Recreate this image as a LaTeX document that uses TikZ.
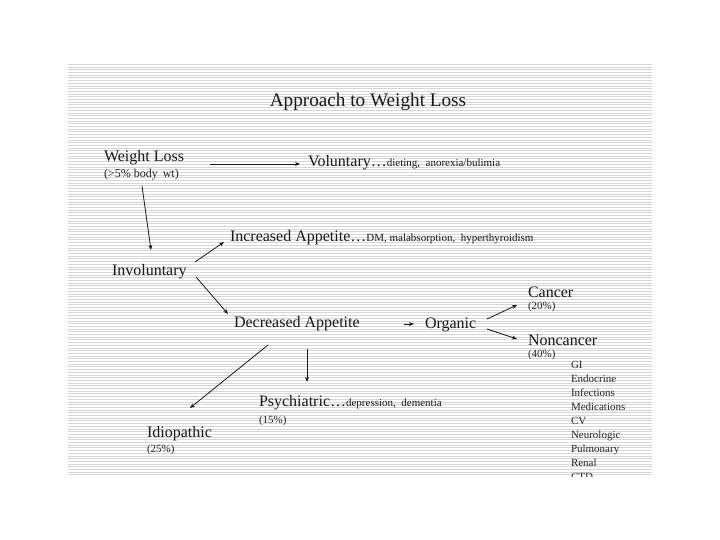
\documentclass[tikz,border=0pt]{standalone}
\usepackage{fontspec}
\setmainfont{Liberation Serif}
\usetikzlibrary{calc,arrows.meta}
\tikzset{
  lbl/.style={anchor=base west,inner sep=0pt,outer sep=0pt,text=black!90,font=\fontsize{16}{18}\selectfont},
  sm/.style={anchor=base west,inner sep=0pt,outer sep=0pt,text=black!85,font=\fontsize{11}{13}\selectfont},
  arr/.style={draw=black!90,line width=0.8pt,-{Stealth[length=5pt,width=4pt]}},
  stripe/.style={draw=gray!32,line width=1pt}
}
\newcommand{\smtxt}[1]{{\fontsize{11}{13}\selectfont #1}}
\begin{document}
\begin{tikzpicture}[x=1pt,y=-1pt]
\useasboundingbox (0,0) rectangle (720,540);
\fill[white] (0,0) rectangle (720,540);
% striped background
\foreach \i in {0,...,152} {
  \pgfmathsetmacro{\yy}{64.5+\i*2.7}
  \draw[stripe] (68,\yy) -- (652,\yy);
}
% title
\node[anchor=base,inner sep=0pt,text=black!90,font=\fontsize{19.2}{21}\selectfont] (title) at (368,107) {Approach to Weight Loss};
% nodes
\node[lbl] (wl) at (104,162) {Weight Loss};
\node[sm,font=\fontsize{12}{14}\selectfont] (wlp) at (104,178) {(>5\% body\ \,wt)};
\node[lbl] (vol) at (308,167) {Voluntary…\smtxt{dieting,\ \ anorexia/bulimia}};
\node[lbl] (inv) at (112,275) {Involuntary};
\node[lbl] (inc) at (230,241) {Increased Appetite…\smtxt{DM, malabsorption,\ \ hyperthyroidism}};
\node[lbl] (dec) at (234,327) {Decreased Appetite};
\node[lbl] (org) at (425,328) {Organic};
\node[lbl] (can) at (528,297) {Cancer};
\node[sm] (canp) at (528,309) {(20\%)};
\node[lbl] (non) at (528,345) {Noncancer};
\node[sm] (nonp) at (528,357) {(40\%)};
\node[lbl] (psy) at (259,406) {Psychiatric…\smtxt{depression,\ \ dementia}};
\node[sm] (psyp) at (259,423) {(15\%)};
\node[lbl] (idi) at (147,437) {Idiopathic};
\node[sm] (idip) at (147,452) {(25\%)};
% list
\node[sm] (l1) at (571,368) {GI};
\node[sm] (l2) at (571,382) {Endocrine};
\node[sm] (l3) at (571,396) {Infections};
\node[sm] (l4) at (571,410) {Medications};
\node[sm] (l5) at (571,424) {CV};
\node[sm] (l6) at (571,438) {Neurologic};
\node[sm] (l7) at (571,452) {Pulmonary};
\node[sm] (l8) at (571,466) {Renal};
\node[sm] (l9) at (571,480) {CTD};
% arrows
\draw[arr] ($(wl.base west)+(106,2)$) -- ($(vol.base west)+(-8,-3)$);
\draw[arr] ($(wlp.base west)+(38,8)$) -- ($(inv.base west)+(39,-25)$);
\draw[arr] ($(inv.base west)+(83,-13)$) -- ($(inc.base west)+(-6,1)$);
\draw[arr] ($(inv.base west)+(84,2)$) -- ($(dec.base west)+(-6,-13)$);
\draw[arr] ($(dec.base west)+(170,-3)$) -- ($(org.base west)+(-11,-4)$);
\draw[arr] ($(org.base west)+(62,-9)$) -- ($(can.base west)+(-11,8)$);
\draw[arr] ($(org.base west)+(62,1)$) -- ($(non.base west)+(-11,-6)$);
\draw[arr] ($(dec.base west)+(34,18)$) -- ($(idi.base west)+(43,-29)$);
\draw[arr] ($(dec.base west)+(73,22)$) -- ($(psy.base west)+(48,-24)$);
% cut off below the panel
\fill[white] (0,476.5) rectangle (720,540);
\end{tikzpicture}
\end{document}
